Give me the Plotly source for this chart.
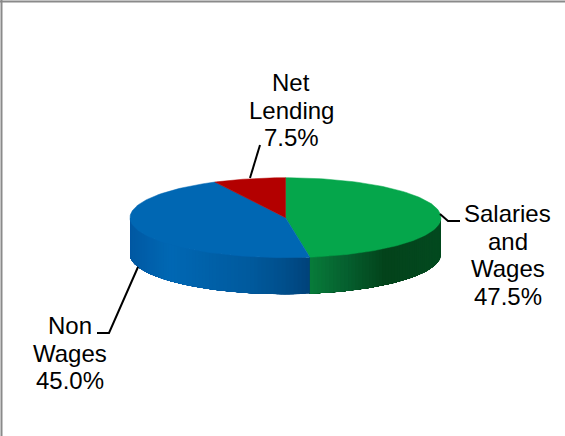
import numpy as np
import plotly.graph_objects as go

categories = ["Salaries and Wages", "Non Wages", "Net Lending"]
values = [47.5, 45.0, 7.5]
label_lines = [["Salaries", "and", "Wages"], ["Non", "Wages"], ["Net", "Lending"]]
top_colors = ["#05a64b", "#0067b3", "#b30000"]

# Geometry of the tilted disc, in the pixel units of the hidden axes
CX, CY, RX, RY, DEPTH = 285.5, 217.7, 155.5, 40.0, 36.5
W, H = 565, 436


def px(theta):
    return CX + RX * np.sin(theta)


def py(theta):
    return CY - RY * np.cos(theta)


def hexrgb(h):
    return np.array([int(h[i:i + 2], 16) for i in (1, 3, 5)], dtype=float)


def wall_color(x, stops):
    xs = [s[0] for s in stops]
    cs = np.array([hexrgb(s[1]) for s in stops])
    r = [np.interp(x, xs, cs[:, i]) for i in range(3)]
    return "rgb(%d,%d,%d)" % tuple(r)


wall_stops = [
    [(310, "#087c3a"), (345, "#066130"), (385, "#03431b"), (441, "#034a20")],
    [(130, "#0059a3"), (170, "#0068b4"), (250, "#005a9e"), (285, "#004f8c"), (310, "#00427a")],
    [(130, "#0059a3"), (310, "#00427a")],
]

fig = go.Figure()

fractions = np.array(values) / sum(values)
edges = np.concatenate([[0], np.cumsum(fractions)]) * 2 * np.pi

# Side wall: only the front half of the disc (angles 90° to 270°) is visible.
# Each strip runs to the end of its slice and the next one paints over it, leaving no seams.
for i in range(len(values)):
    a0, a1 = max(edges[i], np.pi / 2), min(edges[i + 1], 3 * np.pi / 2)
    if a1 <= a0:
        continue
    steps = int(np.degrees(a1 - a0) / 1.5) + 1
    cuts = np.linspace(a0, a1, steps + 1)
    for s0, s1 in zip(cuts[:-1], cuts[1:]):
        t = np.linspace(s0, a1, 60)
        xs = np.concatenate([px(t), px(t[::-1])])
        ys = np.concatenate([py(t), py(t[::-1]) + DEPTH])
        c = wall_color(float(px((s0 + s1) / 2)), wall_stops[i])
        fig.add_trace(go.Scatter(x=xs, y=ys, mode="lines", fill="toself", fillcolor=c,
                                 line=dict(width=0), hoverinfo="skip", showlegend=False))

# Top surface
for i, color in enumerate(top_colors):
    t = np.linspace(edges[i], edges[i + 1], 120)
    xs = np.concatenate([[CX], px(t), [CX]])
    ys = np.concatenate([[CY], py(t), [CY]])
    fig.add_trace(go.Scatter(x=xs, y=ys, mode="lines", fill="toself", fillcolor=color,
                             line=dict(color=color, width=0.5), hoverinfo="skip", showlegend=False,
                             name=categories[i]))

# Leader lines
leaders = [
    ([440, 448, 460], [214, 221, 221]),
    ([138, 109, 97], [267, 333, 333]),
    ([250, 260], [178, 145]),
]
for lx, ly in leaders:
    fig.add_trace(go.Scatter(x=lx, y=ly, mode="lines", line=dict(color="black", width=2),
                             hoverinfo="skip", showlegend=False))

# Labels: each line placed separately to hold the 27 px line pitch
anchors = [(507.5, 213.5), (70, 325.5), (291, 82.5)]
annotations = []
for lines, v, (ax, ay) in zip(label_lines, values, anchors):
    for k, txt in enumerate(lines + ["%.1f%%" % v]):
        annotations.append(dict(x=ax, y=ay + k * 27.5, text=txt, showarrow=False,
                                xanchor="center", yanchor="middle",
                                font=dict(family="Liberation Sans", size=24, color="black")))

fig.update_layout(
    width=W, height=H, autosize=False,
    margin=dict(l=0, r=0, t=0, b=0, pad=0),
    paper_bgcolor="white", plot_bgcolor="white",
    showlegend=False,
    xaxis=dict(range=[0, W], visible=False, fixedrange=True),
    yaxis=dict(range=[H, 0], visible=False, fixedrange=True),
    annotations=annotations,
    shapes=[
        dict(type="line", x0=0, x1=W, y0=1.5, y1=1.5, line=dict(color="#8a8a8a", width=2)),
        dict(type="line", x0=1.5, x1=1.5, y0=0, y1=H, line=dict(color="#8a8a8a", width=2)),
    ],
)

fig.write_html("out.html", config=dict(displayModeBar=False),
               post_script="document.body.style.margin='0';")
